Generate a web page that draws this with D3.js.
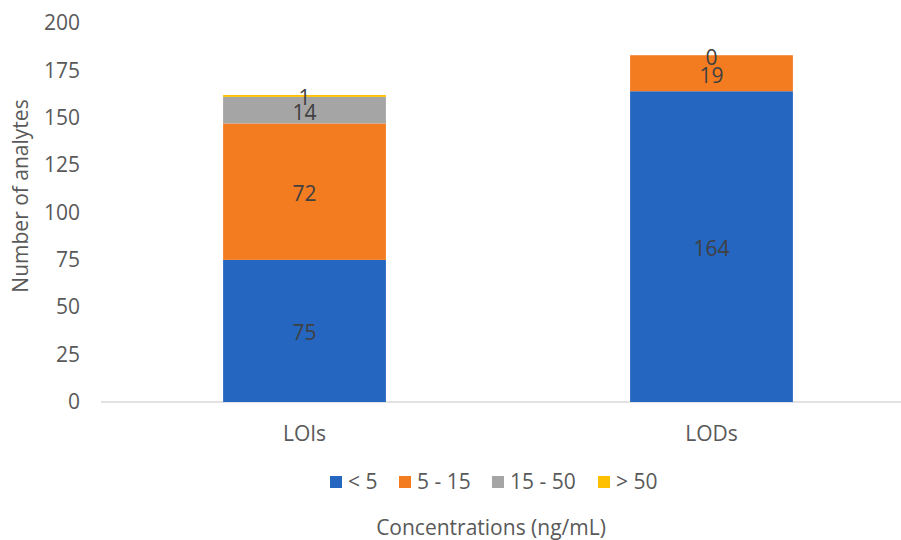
<!DOCTYPE html>
<html>
<head>
<meta charset="utf-8">
<script src="https://cdn.jsdelivr.net/npm/d3@7"></script>
<style>
  html, body { margin: 0; padding: 0; background: #fff; }
  svg { display: block; font-family: "Open Sans", sans-serif; }
</style>
</head>
<body>
<svg id="chart" width="901" height="540"></svg>
<script>
// Stacked counts of analytes by concentration range
const categories = ["LOIs", "LODs"];
const seriesNames = ["< 5", "5 - 15", "15 - 50", "> 50"];
const lessThan5 = [75, 164];
const from5to15 = [72, 19];
const from15to50 = [14, 0];
const over50 = [1, 0];
const yTicks = [0, 25, 50, 75, 100, 125, 150, 175, 200];
const colors = ["#2466C0", "#F47C20", "#A5A5A5", "#FFC000"];

const seriesValues = [lessThan5, from5to15, from15to50, over50];
const rows = categories.map((c, i) => {
  const r = { category: c };
  seriesNames.forEach((s, k) => { r[s] = seriesValues[k][i]; });
  return r;
});

const svg = d3.select("#chart");
const margin = { left: 101, right: -14, top: 23, bottom: 138 };
const W = 901, H = 540;

const x = d3.scaleBand()
  .domain(categories)
  .range([margin.left, W - margin.right])
  .paddingInner(0.6)
  .paddingOuter(0.3);

const y = d3.scaleLinear()
  .domain([0, 200])
  .range([H - margin.bottom, margin.top]);

const stacked = d3.stack().keys(seriesNames)(rows);

// Baseline
svg.append("line")
  .attr("x1", margin.left).attr("x2", W)
  .attr("y1", y(0)).attr("y2", y(0))
  .attr("stroke", "#D9D9D9").attr("stroke-width", 1.5);

// Bars
const groups = svg.append("g").selectAll("g")
  .data(stacked)
  .join("g")
  .attr("fill", (d, i) => colors[i]);

groups.selectAll("rect")
  .data(d => d)
  .join("rect")
  .attr("x", d => x(d.data.category))
  .attr("width", x.bandwidth())
  .attr("y", d => y(d[1]))
  .attr("height", d => y(d[0]) - y(d[1]));

// Data labels at segment centres (the empty top layer of LODs has none)
const labels = svg.append("g")
  .attr("font-size", 21)
  .attr("fill", "#404040")
  .attr("text-anchor", "middle");

stacked.forEach((layer, k) => {
  layer.forEach((d, i) => {
    const v = d[1] - d[0];
    if (k === 3 && i === 1) return;
    labels.append("text")
      .attr("x", x(d.data.category) + x.bandwidth() / 2)
      .attr("y", y((d[0] + d[1]) / 2) + 2)
      .attr("dy", "0.35em")
      .text(v);
  });
});

// Y axis
const yAxis = d3.axisLeft(y).tickValues(yTicks).tickSize(0).tickPadding(21);
const yg = svg.append("g")
  .attr("transform", `translate(${margin.left},0)`)
  .call(yAxis);
yg.select(".domain").remove();
yg.selectAll("text")
  .attr("font-family", "Open Sans, sans-serif")
  .attr("font-size", 21)
  .attr("fill", "#595959");

// X axis labels
const xAxis = d3.axisBottom(x).tickSize(0).tickPadding(24);
const xg = svg.append("g")
  .attr("transform", `translate(0,${y(0)})`)
  .call(xAxis);
xg.select(".domain").remove();
xg.selectAll("text")
  .attr("font-family", "Open Sans, sans-serif")
  .attr("font-size", 21)
  .attr("fill", "#595959");

// Y title
svg.append("text")
  .attr("transform", `translate(21,196) rotate(-90)`)
  .attr("text-anchor", "middle")
  .attr("dy", "0.35em")
  .attr("font-size", 21)
  .attr("fill", "#595959")
  .text("Number of analytes");

// Legend
const legendX = [330, 399, 492, 598];
const legend = svg.append("g");
seriesNames.forEach((s, k) => {
  legend.append("rect")
    .attr("x", legendX[k]).attr("y", 476)
    .attr("width", 12).attr("height", 12)
    .attr("fill", colors[k]);
  legend.append("text")
    .attr("x", legendX[k] + 18).attr("y", 482)
    .attr("dy", "0.35em")
    .attr("font-size", 21)
    .attr("fill", "#595959")
    .text(s);
});

// X title
svg.append("text")
  .attr("x", 491).attr("y", 528)
  .attr("text-anchor", "middle")
  .attr("dy", "0.35em")
  .attr("font-size", 21)
  .attr("fill", "#595959")
  .text("Concentrations (ng/mL)");
</script>
</body>
</html>
